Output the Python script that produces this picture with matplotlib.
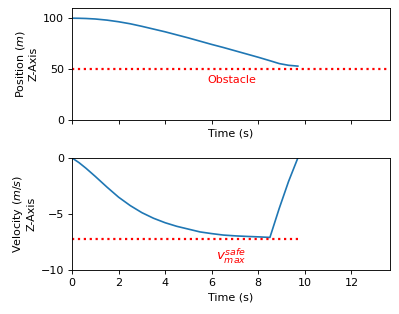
import numpy as np
import matplotlib
matplotlib.use("Agg")
import matplotlib.pyplot as plt

# values
time = [0.0, 0.3, 0.6, 1.0, 1.5, 2.0, 2.5, 3.0, 3.5, 4.0, 4.5, 5.0, 5.5,
        6.0, 6.5, 7.0, 7.5, 8.0, 8.5, 8.9, 9.3, 9.7]
position = [100.0, 99.9, 99.7, 99.2, 98.1, 96.5, 94.5, 92.0, 89.3, 86.6,
            83.6, 80.6, 77.4, 74.2, 71.2, 68.0, 64.8, 61.6, 58.2, 55.4,
            53.7, 52.9]
velocity = [0.0, -0.42, -0.92, -1.65, -2.6, -3.5, -4.25, -4.88, -5.38,
            -5.78, -6.1, -6.35, -6.6, -6.75, -6.88, -6.95, -7.0, -7.04,
            -7.09, -4.5, -2.1, 0.0]

obstacle = 50.0
v_safe_max = -7.2
x_max = 13.65

fig = plt.figure(figsize=(399 / 80, 314 / 80), dpi=80)
ax_pos = fig.add_axes([0.1805, 0.618, 0.7965, 0.3565])
ax_vel = fig.add_axes([0.1805, 0.140, 0.7965, 0.357], sharex=ax_pos)

# position
ax_pos.plot(time, position, color="tab:blue")
ax_pos.axhline(y=obstacle, color="r", linestyle=":", linewidth=2)
ax_pos.text(6.85, 39, "Obstacle", color="r", ha="center", va="center")
ax_pos.set_ylim(0, 110)
ax_pos.set_yticks([0, 50, 100])
ax_pos.set_xlabel("Time (s)")
ax_pos.set_ylabel("Position ($m$)\nZ-Axis")
ax_pos.tick_params(labelbottom=False)

# velocity
ax_vel.plot(time, velocity, color="tab:blue")
ax_vel.hlines(v_safe_max, time[0], time[-1], color="r", linestyle=":", linewidth=2)
ax_vel.text(6.85, -8.75, "$v_{max}^{safe}$", color="r", ha="center", va="center",
            fontsize=12)
ax_vel.set_ylim(-10, 0)
ax_vel.set_yticks([-10, -5, 0])
ax_vel.set_xlim(0, x_max)
ax_vel.set_xticks([0, 2, 4, 6, 8, 10, 12])
ax_vel.set_xlabel("Time (s)")
ax_vel.set_ylabel("Velocity ($m/s$)\nZ-Axis")

fig.savefig("out.png", dpi=80)
